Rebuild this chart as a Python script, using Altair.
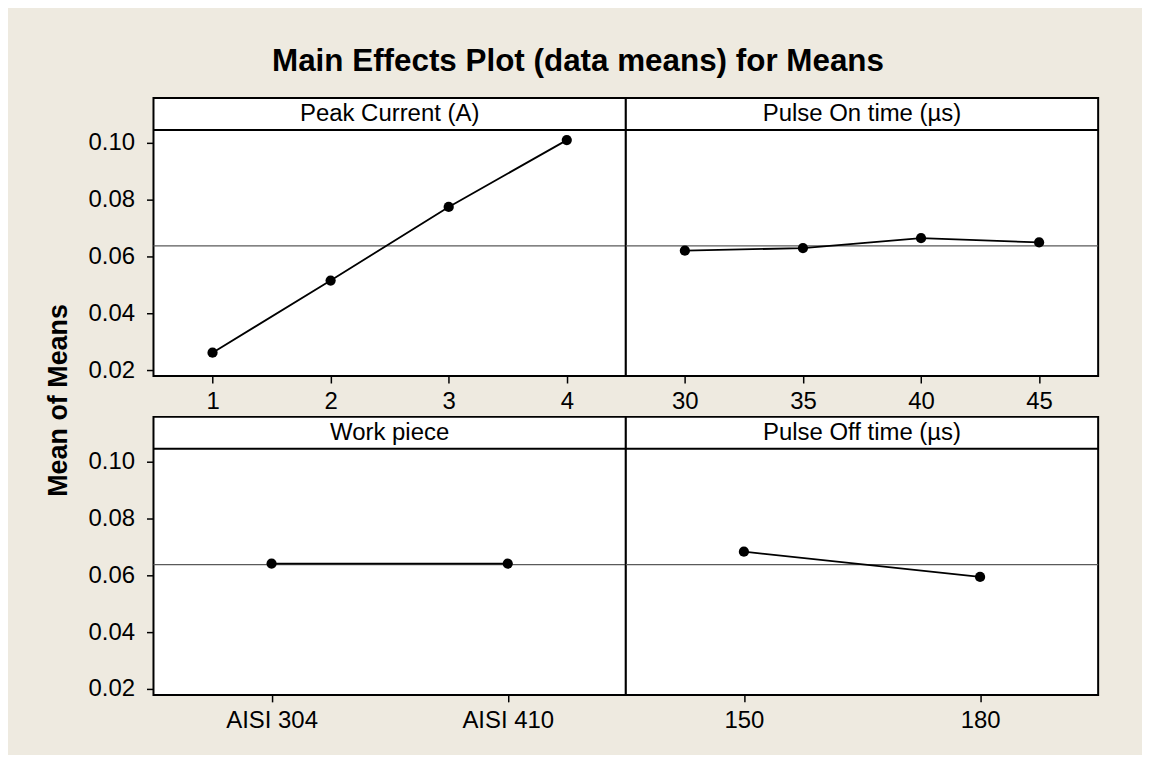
import altair as alt
import pandas as pd

# ---- data ----
peak_levels = ["1", "2", "3", "4"]
peak_means = [0.0261, 0.0515, 0.0774, 0.1009]

on_levels = ["30", "35", "40", "45"]
on_means = [0.0620, 0.0629, 0.0664, 0.0649]

work_levels = ["AISI 304", "AISI 410"]
work_means = [0.0641, 0.0641]

off_levels = ["150", "180"]
off_means = [0.0683, 0.0594]

grand_mean = [0.0637]

y_ticks = [0.02, 0.04, 0.06, 0.08, 0.10]
plot_top = 0.1045          # top of the plotting region
header_top = 0.11572       # top of the strip header (same scale)
header_mid = 0.11011
y_domain = [0.0179, header_top]

FONT = "Liberation Sans"
BG = "#EEEAE0"
W = 474
H = 279


def panel(name, levels, means, show_y, y_title=None):
    df = pd.DataFrame({"level": levels, "mean": means})
    ref = pd.DataFrame({"mean": grand_mean})
    div_df = pd.DataFrame({"mean": [plot_top]})
    lab_df = pd.DataFrame({"mean": [header_mid], "name": [name]})

    x = alt.X(
        "level:N",
        sort=levels,
        scale=alt.Scale(padding=0.5),
        axis=alt.Axis(
            title=None,
            labelAngle=0,
            labelFont=FONT,
            labelFontSize=24,
            labelColor="black",
            labelPadding=7,
            tickSize=7,
            tickColor="black",
            tickWidth=1.5,
            domain=False,
            grid=False,
        ),
    )
    if show_y:
        yaxis_kwargs = dict(
            values=y_ticks,
            format=".2f",
            labelFont=FONT,
            labelFontSize=24,
            labelColor="black",
            labelPadding=12,
            tickSize=7,
            tickColor="black",
            tickWidth=1.5,
            domain=False,
            grid=False,
        )
        if y_title:
            yaxis_kwargs.update(
                title=y_title,
                titleFont=FONT,
                titleFontSize=27,
                titleFontWeight="bold",
                titleColor="black",
                titleAngle=270,
                titleAlign="center",
                titleBaseline="middle",
                titleX=-95,
                titleY=303,
            )
        else:
            yaxis_kwargs.update(title=None)
        yaxis = alt.Axis(**yaxis_kwargs)
    else:
        yaxis = None
    yscale = alt.Scale(domain=y_domain, nice=False, zero=False)
    y = alt.Y("mean:Q", scale=yscale, axis=yaxis)

    divider = alt.Chart(div_df).mark_rule(color="black", strokeWidth=2).encode(y=y)
    label = (
        alt.Chart(lab_df)
        .mark_text(font=FONT, fontSize=24, color="black", baseline="middle", align="center")
        .encode(y=y, text="name:N")
    )
    rule = alt.Chart(ref).mark_rule(color="#5a5a5a", strokeWidth=1.3).encode(y=y)
    line = alt.Chart(df).mark_line(color="black", strokeWidth=1.8).encode(x=x, y=y)
    pts = (
        alt.Chart(df)
        .mark_point(filled=True, size=105, color="black", opacity=1)
        .encode(x=x, y=y)
    )
    return alt.layer(rule, divider, label, line, pts).properties(
        width=W,
        height=H,
        view=alt.ViewBackground(fill="white", stroke="black", strokeWidth=2),
    )


tl = panel("Peak Current (A)", peak_levels, peak_means, True, "Mean of Means")
tr = panel("Pulse On time (µs)", on_levels, on_means, False)
bl = panel("Work piece", work_levels, work_means, True)
br = panel("Pulse Off time (µs)", off_levels, off_means, False)

chart = (
    alt.concat(
        tl, tr, bl, br,
        columns=2,
        spacing=alt.RowColnumber(row=41, column=0),
        bounds="flush",
    )
    .properties(
        title=alt.TitleParams(
            "Main Effects Plot (data means) for Means",
            font=FONT,
            fontSize=31.5,
            fontWeight="bold",
            color="black",
            anchor="middle",
            offset=20,
            dx=6,
        ),
        background=BG,
        padding={"left": 36, "top": 36, "right": 42, "bottom": 20},
    )
    .configure_view(stroke="black")
)

chart.save("out.html", embed_options={"renderer": "svg", "actions": False})
